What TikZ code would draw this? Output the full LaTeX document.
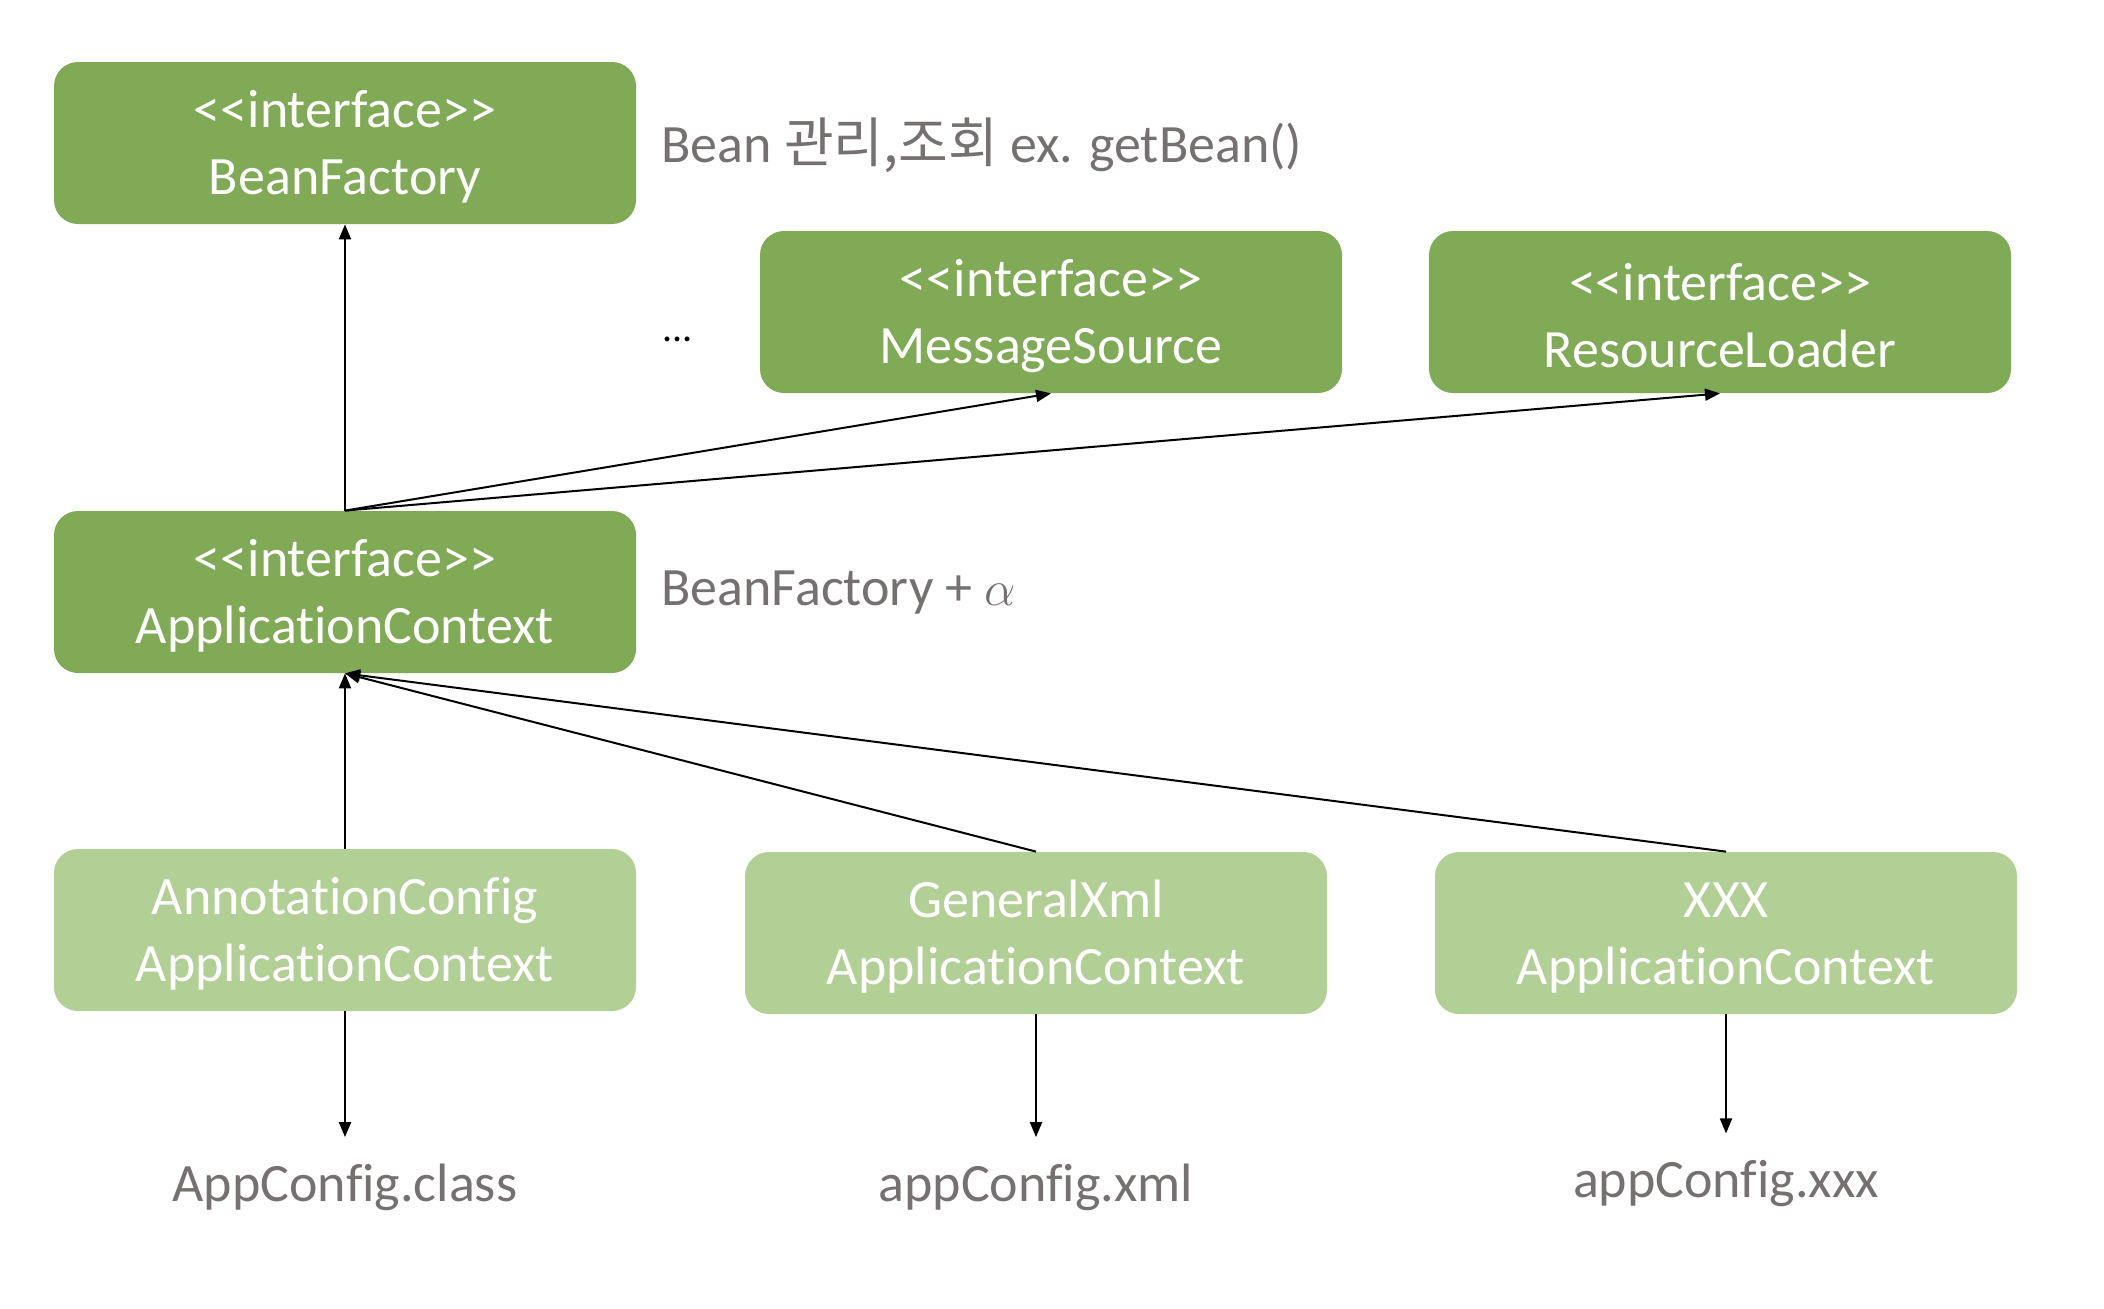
\documentclass[tikz,border=0pt]{standalone}
\usepackage{fontspec}
\setmainfont{Carlito}[Ligatures={TeXOff,NoCommon}]
\newfontfamily\kr{Noto Sans CJK KR}
\usetikzlibrary{arrows.meta}
\definecolor{dg}{HTML}{80AA55}
\definecolor{lg}{HTML}{B2CF96}
\definecolor{gt}{HTML}{767171}
\newcommand\fstrut{\rule{0pt}{22.5pt}}
\begin{document}
\begin{tikzpicture}[x=0.5pt,y=-0.5pt,
 box/.style={rounded corners=12pt, minimum width=291pt, minimum height=81pt, text=white, align=center, font=\fontsize{27}{33.5}\selectfont, inner sep=0pt},
 dbox/.style={box, fill=dg},
 lbox/.style={box, fill=lg},
 note/.style={text=gt, font=\fontsize{27}{32}\selectfont, inner sep=0pt},
 conn/.style={-{Triangle[length=7.5pt,width=6pt]}, line width=1pt}]
\useasboundingbox (0,0) rectangle (2104,1308);
\node[dbox] (bf) at (345,143) {\fstrut<<interface>>\\BeanFactory};
\node[dbox] (ms) at (1051,312) {\fstrut<<interface>>\\MessageSource};
\node[dbox] (rl) at (1720,312) {\fstrut<<interface>>\\ResourceLoader};
\node[dbox] (ac) at (345,592) {\fstrut<<interface>>\\ApplicationContext};
\node[lbox] (ax) at (345,930) {\fstrut AnnotationConfig\\ApplicationContext};
\node[lbox] (gx) at (1036,933) {\fstrut GeneralXml\\ApplicationContext};
\node[lbox] (xx) at (1726,933) {\fstrut XXX\\ApplicationContext};
\node[note, anchor=west] (n1) at (661,145) {Bean {\kr 관리,조회} ex. getBean()};
\node[note, anchor=west] (n2) at (661,593) {BeanFactory + {\fontsize{31}{31}\selectfont$\alpha$}};
\node[inner sep=0pt, font=\fontsize{20}{24}\selectfont, anchor=west] (dots) at (662,339) {...};
\node[note, anchor=base] (l1) at (345,1201) {AppConfig.class};
\node[note, anchor=base] (l2) at (1036,1201) {appConfig.xml};
\node[note, anchor=base] (l3) at (1726,1197) {appConfig.xxx};
\draw[conn] (ac.north) -- (bf.south);
\draw[conn] (ac.north) -- (ms.south);
\draw[conn] (ac.north) -- (rl.south);
\draw[conn] (ax.north) -- (ac.south);
\draw[conn] (gx.north) -- (ac.south);
\draw[conn] (xx.north) -- (ac.south);
\draw[conn, shorten >=13pt] (ax.south) -- (l1.north);
\draw[conn, shorten >=13pt] (gx.south) -- (l2.north);
\draw[conn, shorten >=13pt] (xx.south) -- (l3.north);
\end{tikzpicture}
\end{document}
